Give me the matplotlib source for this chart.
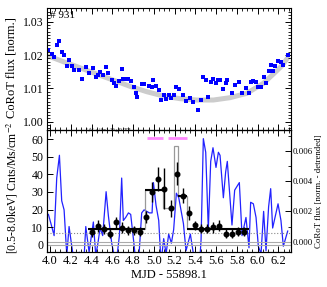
import matplotlib
matplotlib.use('Agg')
import matplotlib.pyplot as plt
from matplotlib.ticker import MultipleLocator, AutoMinorLocator

plt.rcParams['font.family'] = 'serif'
plt.rcParams['font.serif'] = ['Liberation Serif', 'DejaVu Serif']
plt.rcParams['mathtext.fontset'] = 'stix'

# CoRoT light curve (MJD - 55898.1)
time = [3.984, 4.016, 4.039, 4.064, 4.090, 4.112, 4.135, 4.161, 4.183, 4.209,
        4.231, 4.283, 4.311, 4.344, 4.376, 4.417, 4.440, 4.459, 4.482, 4.507,
        4.540, 4.562, 4.594, 4.617, 4.636, 4.668, 4.690, 4.706, 4.729, 4.755,
        4.777, 4.806, 4.829, 4.841, 4.883, 4.906, 4.957, 4.983, 4.996, 5.021,
        5.047, 5.069, 5.095, 5.118, 5.143, 5.169, 5.191, 5.217, 5.240, 5.285,
        5.310, 5.352, 5.381, 5.426, 5.455, 5.477, 5.500, 5.525, 5.548, 5.570,
        5.599, 5.622, 5.638, 5.670, 5.692, 5.708, 5.753, 5.779, 5.824, 5.850,
        5.888, 5.917, 5.933, 5.959, 5.985, 6.007, 6.033, 6.058, 6.081, 6.106,
        6.126, 6.145, 6.171, 6.197, 6.225, 6.248, 6.290]
flux = [1.0215, 1.0203, 1.0195, 1.0230, 1.0241, 1.0209, 1.0200, 1.0167, 1.0184, 1.0168,
        1.0155, 1.0155, 1.0128, 1.0165, 1.0145, 1.0160, 1.0135, 1.0140, 1.0148, 1.0140,
        1.0165, 1.0147, 1.0125, 1.0115, 1.0107, 1.0122, 1.0157, 1.0127, 1.0127, 1.0127,
        1.0123, 1.0103, 1.0085, 1.0073, 1.0114, 1.0114, 1.0107, 1.0105, 1.0124, 1.0107,
        1.0095, 1.0065, 1.0079, 1.0068, 1.0079, 1.0072, 1.0080, 1.0103, 1.0099, 1.0080,
        1.0062, 1.0072, 1.0058, 1.0034, 1.0066, 1.0133, 1.0124, 1.0073, 1.0118, 1.0127,
        1.0115, 1.0126, 1.0125, 1.0098, 1.0116, 1.0124, 1.0085, 1.0110, 1.0118, 1.0085,
        1.0100, 1.0085, 1.0118, 1.0122, 1.0118, 1.0103, 1.0103, 1.0135, 1.0117, 1.0153,
        1.0170, 1.0152, 1.0167, 1.0183, 1.0179, 1.0170, 1.0200]
flux_detrended = [0.0018, 0.0010, 0.0004, 0.0042, 0.0057, 0.0027, 0.0021, -0.0009, 0.0010, -0.0003,
                  -0.0013, -0.0007, -0.0031, 0.0010, -0.0007, 0.0013, -0.0009, -0.0002, 0.0009, 0.0004,
                  0.0033, 0.0017, -0.0001, -0.0009, -0.0015, 0.0004, 0.0042, 0.0014, 0.0016, 0.0019,
                  0.0018, 0.0000, -0.0015, -0.0026, 0.0019, 0.0021, 0.0019, 0.0019, 0.0039, 0.0024,
                  0.0014, -0.0014, 0.0002, -0.0008, 0.0005, -0.0001, 0.0008, 0.0032, 0.0029, 0.0012,
                  -0.0006, 0.0005, -0.0008, -0.0031, 0.0001, 0.0068, 0.0059, 0.0008, 0.0053, 0.0062,
                  0.0049, 0.0059, 0.0057, 0.0029, 0.0046, 0.0053, 0.0011, 0.0034, 0.0039, 0.0004,
                  0.0016, -0.0004, 0.0026, 0.0025, 0.0016, -0.0003, -0.0008, 0.0020, -0.0006, 0.0023,
                  0.0035, 0.0009, 0.0017, 0.0025, 0.0014, -0.0003, 0.0007]
trend_time = [3.984, 4.128, 4.321, 4.482, 4.642, 4.771, 4.931, 5.092, 5.252,
              5.413, 5.574, 5.734, 5.895, 6.055, 6.152, 6.232, 6.286]
trend_flux = [1.0197, 1.0180, 1.0158, 1.0139, 1.0121, 1.0106, 1.0090, 1.0077, 1.0069,
              1.0065, 1.0065, 1.0072, 1.0085, 1.0115, 1.0143, 1.0167, 1.0190]

# X-ray count rate
xray_time = [4.401, 4.459, 4.517, 4.575, 4.633, 4.694, 4.751, 4.809, 4.867, 4.925,
             4.983, 5.040, 5.101, 5.163, 5.223, 5.281, 5.342, 5.400, 5.458, 5.516,
             5.574, 5.631, 5.692, 5.750, 5.808, 5.866]
xray_rate = [7.2, 10.9, 9.0, 6.4, 12.8, 9.8, 8.3, 8.3, 7.6, 16.0,
             29.8, 37.3, 31.9, 20.8, 40.4, 27.9, 18.1, 11.1, 9.2, 9.2,
             10.0, 11.0, 6.4, 6.4, 7.5, 7.5]
xray_err = [2.5, 3.3, 2.7, 2.5, 3.3, 3.0, 2.7, 2.7, 2.7, 3.5,
            5.7, 6.6, 11.8, 4.7, 6.6, 4.3, 4.2, 2.7, 2.7, 2.7,
            3.0, 3.0, 2.5, 2.5, 2.7, 2.7]

block_edges = [4.37, 4.912, 5.089, 5.19, 5.233, 5.323, 5.92]
block_rate = [9.2, 31.3, 21.0, 56.0, 27.6, 9.2]
block_main = [True, True, False, False, True, True]

flare_start = [4.93, 5.14]
flare_end = [5.09, 5.32]
flare_level = 60.3
quiescent_level = 6.8

fig = plt.figure(figsize=(3.27, 2.87), dpi=100)
ax1 = fig.add_axes([0.143, 0.547, 0.746, 0.425])
ax = fig.add_axes([0.143, 0.122, 0.746, 0.425])
ax2 = ax.twinx()

xlim = (3.968, 6.319)

# top panel
ax1.plot(trend_time, trend_flux, color='#cccccc', lw=3.6, solid_capstyle='round', zorder=1)
ax1.plot(time, flux, 's', color='#0000ff', ms=2.3, mew=0, zorder=2)
ax1.set_xlim(xlim)
ax1.set_ylim(0.9975, 1.0341)
ax1.yaxis.set_major_locator(MultipleLocator(0.01))
ax1.yaxis.set_minor_locator(MultipleLocator(0.001))
ax1.yaxis.set_major_formatter(plt.FormatStrFormatter('%.2f'))
ax1.xaxis.set_major_locator(MultipleLocator(0.2))
ax1.xaxis.set_minor_locator(AutoMinorLocator(4))
ax1.tick_params(which='both', direction='in', top=True, right=True, labelbottom=False)
ax1.tick_params(which='major', length=4, width=0.7, labelsize=8.5, pad=2)
ax1.tick_params(which='minor', length=2, width=0.6)
ax1.set_ylabel('CoRoT flux [norm.]', fontsize=9)
ax1.yaxis.set_label_coords(-0.12, 0.516)
ax1.text(0.015, 0.975, '# 931', transform=ax1.transAxes, ha='left', va='top', fontsize=8)

# bottom panel
ax2.plot(time, flux_detrended, color='#2222ff', lw=0.9)
ax2.axhline(0.0, color='#aaaaaa', lw=0.8)
ax2.set_ylim(-0.00068, 0.00737)
ax2.yaxis.set_major_locator(MultipleLocator(0.002))
ax2.yaxis.set_minor_locator(AutoMinorLocator(2))
ax2.yaxis.set_major_formatter(plt.FormatStrFormatter('%.3f'))
ax2.tick_params(which='both', direction='in')
ax2.tick_params(which='major', length=4, width=0.7, labelsize=6.3, pad=1.5)
ax2.tick_params(which='minor', length=2, width=0.6)
ax2.set_ylabel('CoRoT flux [norm. - detrended]', fontsize=6.3)
ax2.yaxis.set_label_coords(1.10, 0.496)

ax.set_zorder(ax2.get_zorder() + 1)
ax.patch.set_visible(False)

ax.axhline(0.0, color='#aaaaaa', lw=0.8)
ax.axhline(quiescent_level, color='#888888', lw=0.8, ls=':')
ax.stairs(block_rate, block_edges, color='#999999', lw=0.9, baseline=None)
for i in range(len(block_rate)):
    if block_main[i]:
        ax.hlines(block_rate[i], block_edges[i], block_edges[i + 1], color='black', lw=1.5)
ax.errorbar(xray_time, xray_rate, yerr=xray_err, fmt='o', color='black', ms=3.3,
            elinewidth=1.0, capsize=0)
ax.hlines([flare_level] * len(flare_start), flare_start, flare_end, color='#ff88ff', lw=2)
ax.text(4.56, 62.5, r'L$_{fl}$/L$_{q,10}$=1.29$\pm$0.074', fontsize=3.8, ha='center', va='bottom')

ax.set_xlim(xlim)
ax.set_ylim(-4, 65.1)
ax.xaxis.set_major_locator(MultipleLocator(0.2))
ax.xaxis.set_minor_locator(AutoMinorLocator(4))
ax.yaxis.set_major_locator(MultipleLocator(10))
ax.tick_params(which='both', direction='in', top=True, right=False)
ax.tick_params(which='major', length=4, width=0.7, labelsize=9, pad=2.5)
ax.tick_params(axis='y', labelsize=8.5)
ax.tick_params(which='minor', length=2, width=0.6)
ax.set_xlabel('MJD - 55898.1', fontsize=9, labelpad=1)
ax.set_ylabel(r'[0.5-8.0keV] Cnts/Ms/cm$^{-2}$', fontsize=8.5)
ax.yaxis.set_label_coords(-0.109, 0.53)

for a in (ax1, ax, ax2):
    for s in a.spines.values():
        s.set_linewidth(0.8)

fig.savefig('out.png', dpi=100)
